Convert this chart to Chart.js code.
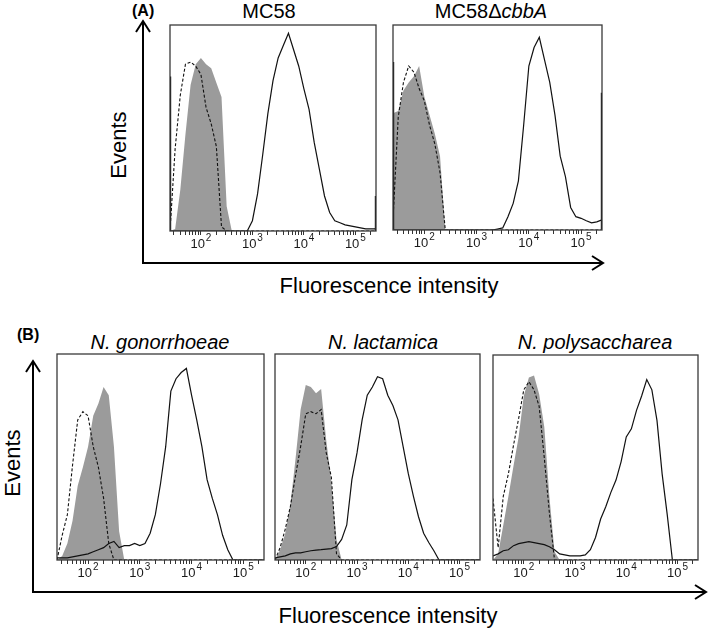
<!DOCTYPE html>
<html><head><meta charset="utf-8">
<script src="https://cdn.jsdelivr.net/npm/chart.js@4.4.1/dist/chart.umd.min.js"></script>
<style>
body{margin:0;background:#fff;width:709px;height:630px;position:relative;overflow:hidden;font-family:"Liberation Sans",Arial,sans-serif;}
canvas{position:absolute;}
.t{position:absolute;line-height:1;white-space:nowrap;color:#000;}
</style></head><body>
<svg width="709" height="630" style="position:absolute;left:0;top:0" fill="none" stroke="#000" stroke-width="2">
  <polyline points="143,21 143,263 603,263"/>
  <polyline points="136,32 143,21 150,32"/>
  <polyline points="592,256 603,263 592,270"/>
  <polyline points="33,361 33,592 706,592"/>
  <polyline points="26,372 33,361 40,372"/>
  <polyline points="695,585 706,592 695,599"/>
</svg>
<div class="t" style="left:132px;top:3px;font-size:16px;font-weight:bold">(A)</div>
<div class="t" style="left:17px;top:327px;font-size:16px;font-weight:bold">(B)</div>
<div class="t" style="left:269px;top:1px;font-size:20px;transform:translateX(-50%)">MC58</div>
<div class="t" style="left:491px;top:1px;font-size:20px;transform:translateX(-50%)">MC58Δ<i>cbbA</i></div>
<div class="t" style="left:160px;top:332px;font-size:20px;transform:translateX(-50%)"><i>N. gonorrhoeae</i></div>
<div class="t" style="left:383px;top:332px;font-size:20px;transform:translateX(-50%)"><i>N. lactamica</i></div>
<div class="t" style="left:595px;top:332px;font-size:20px;transform:translateX(-50%)"><i>N. polysaccharea</i></div>
<div class="t" style="left:119px;top:145px;font-size:22px;transform:translate(-50%,-50%) rotate(-90deg)">Events</div>
<div class="t" style="left:13px;top:463px;font-size:22px;transform:translate(-50%,-50%) rotate(-90deg)">Events</div>
<div class="t" style="left:389px;top:275px;font-size:22px;transform:translateX(-50%)">Fluorescence intensity</div>
<div class="t" style="left:388px;top:605px;font-size:22px;transform:translateX(-50%)">Fluorescence intensity</div>
<script>
// Fluorescence bins (log-spaced, 10^1.4 ... 10^5.4)
const bins = [25.1,31.6,39.8,50.1,63.1,79.4,100,125.9,158.5,199.5,251.2,316.2,398.1,501.2,631,794.3,1000,1258.9,1584.9,1995.3,2511.9,3162.3,3981.1,5011.9,6309.6,7943.3,10000,12589,15849,19953,25119,31623,39811,50119,63096,79433,100000,125893,158489,199526,251189];
const tickValues = [30,40,50,60,70,80,90,100,200,300,400,500,600,700,800,900,1000,2000,3000,4000,5000,6000,7000,8000,9000,10000,20000,30000,40000,50000,60000,70000,80000,90000,100000,200000];
const tickLabelValues = [100,1000,10000,100000];
const tickLabelBase = '10';
const tickLabelExponents = ['2','3','4','5'];

// Events (% of panel height) per bin
const mc58Gray   = [0,1,20,47,71,81,84,81,79,72,65,12,0,0,0,0,0,0,0,0,0,0,0,0,0,0,0,0,0,0,0,0,0,0,0,0,0,0,0,0,0];
const mc58Dashed = [0,40,66,81,82,80,76,60,52,41,2,0,0,0,0,0,0,0,0,0,0,0,0,0,0,0,0,0,0,0,0,0,0,0,0,0,0,0,0,0,0];
const mc58Solid  = [0,0,0,0,0,0,0,0,0,0,0,0,0,0,0,0,5,18,37,57,73,84,90,96,88,80,69,59,43,30,17,9,5,4,3,2.5,2,1.5,1,1,1];

const cbbAGray   = [57,58,68,72,75,80,65,56,47,36,0,0,0,0,0,0,0,0,0,0,0,0,0,0,0,0,0,0,0,0,0,0,0,0,0,0,0,0,0,0,0];
const cbbADashed = [5,55,72,80,77,69,63,51,42,28,0,0,0,0,0,0,0,0,0,0,0,0,0,0,0,0,0,0,0,0,0,0,0,0,0,0,0,0,0,0,0];
const cbbASolid  = [0,0,0,0,0,0,0,0,0,0,0,0,0,0,0,0,0,0,0,0,0.5,1,6.5,13,24,51,80,89,94,83,72,56,36,26,11,6.5,5.7,4.5,3.5,4,5];

const gonGray    = [0,2,8,19,36,45,55,70,76,84,80,55,14,0,0,0,0,0,0,0,0,0,0,0,0,0,0,0,0,0,0,0,0,0,0,0,0,0,0,0,0];
const gonDashed  = [0,12,22,46,68,72,70,55,45,30,8,0,0,0,0,0,0,0,0,0,0,0,0,0,0,0,0,0,0,0,0,0,0,0,0,0,0,0,0,0,0];
const gonSolid   = [1,1,1,1.5,2,2.5,3,4,5,6,8,9,6,7,7,8,7,8,13,22,37,55,82,88,91,93,80,68,55,39,30,22,12,5,0,0,0,0,0,0,0];

const lacGray    = [0,5,13,27,49,73,85,84,81,83,58,38,10,0,0,0,0,0,0,0,0,0,0,0,0,0,0,0,0,0,0,0,0,0,0,0,0,0,0,0,0];
const lacDashed  = [0,6,15,26,41,55,71,72,71,73,52,40,3,0,0,0,0,0,0,0,0,0,0,0,0,0,0,0,0,0,0,0,0,0,0,0,0,0,0,0,0];
const lacSolid   = [1,1.5,2,3,3.5,3.5,4,4.5,4.8,5,5.3,5.5,6.5,10,17,39,52,68,80,84,89,88,80,75,68,55,42,31,21,13,8.5,4.5,0,0,0,0,0,0,0,0,0];

const polGray    = [0,3,17,31,46,60,80,89,90,81,65,31,4,0,0,0,0,0,0,0,0,0,0,0,0,0,0,0,0,0,0,0,0,0,0,0,0,0,0,0,0];
const polDashed  = [30,6,31,42,56,69,83,87,83,75,50,23,0,0,0,0,0,0,0,0,0,0,0,0,0,0,0,0,0,0,0,0,0,0,0,0,0,0,0,0,0];
const polSolid   = [2,3,4.5,5,7,8,8.5,9,8.5,8,7.5,6.5,5,3,2.5,2,2,2,2.5,5,11,20,26,33,39,48,60,64,73,80,88,83,68,42,22,0,0,0,0,0,0];

// off-scale events piled at the axis ends (% of height)
const edgeLeft  = [75,82,0,0,0];
const edgeRight = [17,67,0,0,0];

const panelBoxes = [
  {l:170,t:25,w:206,h:206},
  {l:393,t:25,w:209,h:205},
  {l:57,t:354,w:207,h:206},
  {l:275,t:354,w:205,h:206},
  {l:493,t:355,w:205,h:205}
];
const panelSeries = [
  [mc58Gray,mc58Dashed,mc58Solid],
  [cbbAGray,cbbADashed,cbbASolid],
  [gonGray,gonDashed,gonSolid],
  [lacGray,lacDashed,lacSolid],
  [polGray,polDashed,polSolid]
];

const boxPlugin = {
  id:'box',
  afterDatasetsDraw(chart){
    const a = chart.chartArea, c = chart.ctx;
    c.save(); c.strokeStyle='#3a3a3a'; c.lineWidth=1.3;
    c.strokeRect(a.left, a.top, a.right-a.left, a.bottom-a.top);
    c.restore();
  }
};
// decade labels drawn as 10 with a raised exponent, centred on the scale's tick pixel
const expLabelPlugin = {
  id:'expLabels',
  afterDraw(chart){
    const s = chart.scales.x, c = chart.ctx;
    const y = chart.chartArea.bottom + 17;
    c.save(); c.fillStyle='#1a1a1a'; c.textBaseline='alphabetic'; c.textAlign='left';
    tickLabelValues.forEach((v,k)=>{
      const px = s.getPixelForValue(v);
      c.font='13px "Liberation Sans"';
      const w1 = c.measureText(tickLabelBase).width;
      c.font='10px "Liberation Sans"';
      const w2 = c.measureText(tickLabelExponents[k]).width;
      const x0 = px - (w1 + w2 + 1)/2;
      c.font='13px "Liberation Sans"'; c.fillText(tickLabelBase, x0, y);
      c.font='10px "Liberation Sans"'; c.fillText(tickLabelExponents[k], x0 + w1 + 1, y - 7);
    });
    c.restore();
  }
};

function build(i){
  const b = panelBoxes[i];
  const [gray,dashed,solid] = panelSeries[i];
  const padL=12,padR=12,padT=2,axisH=26;
  const cv = document.createElement('canvas');
  cv.width=b.w+padL+padR; cv.height=b.h+padT+axisH;
  cv.style.left=(b.l-padL)+'px'; cv.style.top=(b.t-padT)+'px';
  cv.style.width=cv.width+'px'; cv.style.height=cv.height+'px';
  document.body.appendChild(cv);
  const pts = arr => arr.map((v,k)=>({x:bins[k],y:v}));
  const ds = [
    {data:pts(solid), borderColor:'#111', borderWidth:1.2, order:1},
    {data:pts(dashed), borderColor:'#111', borderWidth:1.1, borderDash:[3,2], order:2},
    {data:pts(gray), borderWidth:0, borderColor:'rgba(0,0,0,0)', backgroundColor:'#9b9b9b', fill:'origin', order:3}
  ];
  if(edgeLeft[i]) ds.push({data:[{x:bins[0],y:0},{x:bins[0],y:edgeLeft[i]}], borderColor:'#111', borderWidth:2.4, order:0});
  if(edgeRight[i]) ds.push({data:[{x:bins[bins.length-1],y:0},{x:bins[bins.length-1],y:edgeRight[i]}], borderColor:'#111', borderWidth:2.4, order:0});
  new Chart(cv,{
    type:'line',
    data:{datasets:ds.map(d=>Object.assign({pointRadius:0,tension:0,fill:false}, d))},
    options:{
      responsive:false, animation:false, devicePixelRatio:1,
      layout:{padding:{left:padL,right:padR,top:padT,bottom:0}},
      plugins:{legend:{display:false},tooltip:{enabled:false}},
      scales:{
        x:{type:'logarithmic', min:bins[0], max:bins[bins.length-1],
           afterBuildTicks:s=>{ s.ticks = tickValues.map(v=>({value:v})); },
           afterFit:s=>{ s.height = axisH; },
           grid:{drawOnChartArea:false, drawTicks:true, tickLength:4, color:'#333', tickColor:'#333', lineWidth:1},
           border:{display:false},
           ticks:{autoSkip:false, maxRotation:0, minRotation:0, padding:2, color:'#222',
                  font:{family:'Liberation Sans', size:11},
                  callback:()=>'' }
        },
        y:{display:false, min:0, max:100}
      }
    },
    plugins:[boxPlugin, expLabelPlugin]
  });
}
for(let i=0;i<panelBoxes.length;i++) build(i);
</script>
</body></html>
